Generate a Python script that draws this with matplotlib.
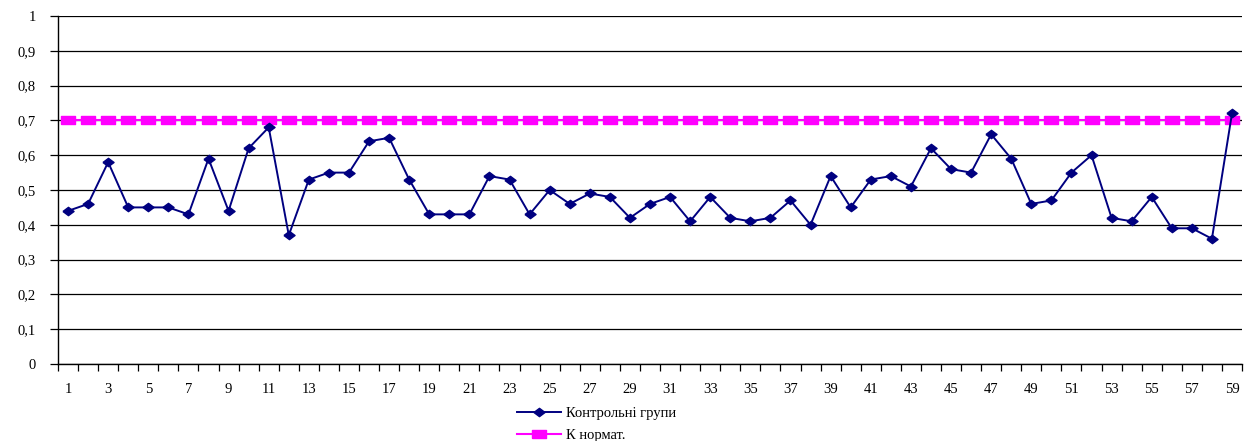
import matplotlib.pyplot as plt
import numpy as np

plt.rcParams['font.family'] = ['Liberation Serif', 'DejaVu Serif']

# data
groups = list(range(1, 60))
control = [0.44, 0.46, 0.58, 0.45, 0.45, 0.45, 0.43, 0.59, 0.44, 0.62,
           0.68, 0.37, 0.53, 0.55, 0.55, 0.64, 0.65, 0.53, 0.43, 0.43,
           0.43, 0.54, 0.53, 0.43, 0.50, 0.46, 0.49, 0.48, 0.42, 0.46,
           0.48, 0.41, 0.48, 0.42, 0.41, 0.42, 0.47, 0.40, 0.54, 0.45,
           0.53, 0.54, 0.51, 0.62, 0.56, 0.55, 0.66, 0.59, 0.46, 0.47,
           0.55, 0.60, 0.42, 0.41, 0.48, 0.39, 0.39, 0.36, 0.72]
norm = [0.7] * 59
y_ticks = [0, 0.1, 0.2, 0.3, 0.4, 0.5, 0.6, 0.7, 0.8, 0.9, 1]
y_labels = ['0', '0,1', '0,2', '0,3', '0,4', '0,5', '0,6', '0,7', '0,8', '0,9', '1']

fig = plt.figure(figsize=(12.58, 4.41), dpi=100)
ax = fig.add_axes([0.0461, 0.1746, 0.9412, 0.7891])

diamond = [(-1, 0), (0, -0.75), (1, 0), (0, 0.75), (-1, 0)]
rect = [(-1, -0.6), (1, -0.6), (1, 0.6), (-1, 0.6), (-1, -0.6)]

ax.plot(groups, norm, color='#FF00FF', lw=1.5, marker=rect, markersize=10,
        label='К нормат.', zorder=3)
ax.plot(groups, control, color='#000080', lw=1.4, marker=diamond, markersize=8,
        label='Контрольні групи', zorder=4)

ax.set_xlim(0.5, 59.5)
ax.set_ylim(0, 1)
ax.set_yticks(y_ticks)
ax.set_yticklabels(y_labels, fontsize=10.5)
ax.yaxis.grid(True, color='black', lw=0.9)
ax.tick_params(axis='y', length=6, width=0.9, direction='out', pad=10)

ax.set_xticks(groups[::2])
ax.set_xticklabels([str(g) for g in groups[::2]], fontsize=10.5)
ax.set_xticks(np.arange(0.5, 60, 1), minor=True)
ax.tick_params(axis='x', which='major', length=0, pad=14)
ax.tick_params(axis='x', which='minor', length=5, width=0.9, direction='out')

for side in ['top', 'right']:
    ax.spines[side].set_visible(False)
for side in ['left', 'bottom']:
    ax.spines[side].set_linewidth(1.0)
ax.set_axisbelow(True)

handles, labels = ax.get_legend_handles_labels()
fig.legend(handles[::-1], labels[::-1], loc='upper left',
           bbox_to_anchor=(0.405, 0.093), frameon=False, fontsize=10.5,
           handlelength=3.0, handletextpad=0.4, labelspacing=0.6,
           borderpad=0)

fig.savefig('out.png', dpi=100)
